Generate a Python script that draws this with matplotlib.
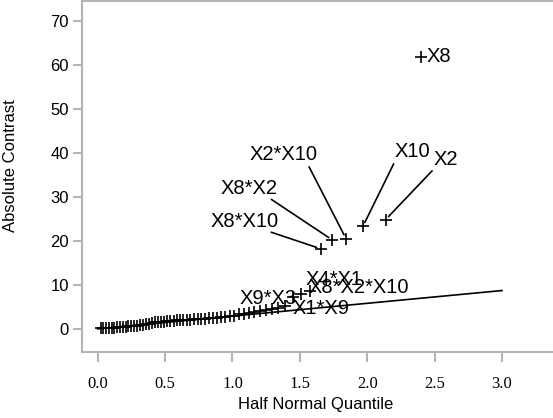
import numpy as np
import matplotlib
matplotlib.use('Agg')
import matplotlib.pyplot as plt

# half normal quantiles (x) and absolute contrasts (y), sorted
quantile = [0.021, 0.041, 0.062, 0.082, 0.103, 0.124, 0.144, 0.165, 0.186, 0.207,
            0.228, 0.249, 0.270, 0.292, 0.313, 0.335, 0.357, 0.379, 0.401, 0.423,
            0.446, 0.469, 0.492, 0.515, 0.539, 0.563, 0.587, 0.612, 0.636, 0.662,
            0.688, 0.714, 0.741, 0.768, 0.796, 0.825, 0.854, 0.884, 0.915, 0.946,
            0.979, 1.013, 1.047, 1.084, 1.122, 1.161, 1.202, 1.245, 1.291, 1.340,
            1.392, 1.448, 1.510, 1.578, 1.653, 1.740, 1.842, 1.968, 2.136, 2.400]
contrast = [0.25, 0.30, 0.30, 0.35, 0.40, 0.40, 0.45, 0.50, 0.55, 0.60,
            0.65, 0.75, 0.80, 0.85, 0.90, 1.00, 1.15, 1.30, 1.45, 1.55,
            1.60, 1.65, 1.70, 1.80, 1.85, 1.90, 2.00, 2.05, 2.10, 2.15,
            2.20, 2.30, 2.35, 2.40, 2.45, 2.50, 2.55, 2.60, 2.70, 2.80,
            3.00, 3.10, 3.40, 3.50, 3.70, 3.90, 4.20, 4.40, 4.60, 4.80,
            5.20, 7.30, 8.00, 8.60, 18.3, 20.3, 20.6, 23.4, 24.9, 61.9]

# reference line
line_x = [0.0, 3.0]
line_y = [0.1, 8.8]

# labelled effects: name, index into arrays, label position, leader line anchor
lab_names = ['X8', 'X2', 'X10', 'X2*X10', 'X8*X2', 'X8*X10',
             'X4*X1', 'X8*X2*X10', 'X9*X3', 'X1*X9']
lab_index = [59, 58, 57, 56, 55, 54, 53, 52, 51, 50]
lab_x = [2.443, 2.495, 2.205, 1.130, 0.912, 0.838, 1.545, 1.562, 1.050, 1.447]
lab_y = [61.9, 38.6, 40.3, 39.6, 32.0, 24.4, 11.2, 9.5, 7.1, 4.8]
lab_leader = [None, (0.0, 0.0), (0.0, 0.0), (0.85, 0.0), (0.85, 0.0), (0.85, 0.0),
              None, None, None, None]

sans = ['Liberation Sans', 'DejaVu Sans']
serif = ['Liberation Serif', 'DejaVu Serif']
grey = '#b4b4b4'

fig = plt.figure(figsize=(5.53, 4.18), dpi=100)
ax = fig.add_axes([0.1477, 0.1586, 0.8523, 0.8390])

ax.plot(line_x, line_y, color='black', lw=1.2, zorder=2)
ax.plot(quantile, contrast, linestyle='none', marker='+', markersize=8,
        markeredgewidth=1.2, color='black', zorder=3)

for name, i, tx, ty, rel in zip(lab_names, lab_index, lab_x, lab_y, lab_leader):
    px, py = quantile[i], contrast[i]
    if rel is None:
        ax.text(tx, ty, name, ha='left', va='center', fontsize=14.5,
                family=sans, zorder=4)
    else:
        ax.annotate(name, xy=(px, py), xytext=(tx, ty), ha='left', va='center',
                    fontsize=14.5, family=sans, zorder=4,
                    arrowprops=dict(arrowstyle='-', color='black', lw=1.2,
                                    relpos=rel, patchA=None,
                                    shrinkA=2, shrinkB=3))

ax.set_xlim(-0.119, 3.378)
ax.set_ylim(-5.09, 74.55)
ax.set_xticks([0.0, 0.5, 1.0, 1.5, 2.0, 2.5, 3.0])
ax.set_yticks([0, 10, 20, 30, 40, 50, 60, 70])
ax.set_xticklabels(['0.0', '0.5', '1.0', '1.5', '2.0', '2.5', '3.0'],
                   family=serif, fontsize=12)
ax.set_yticklabels(['0', '10', '20', '30', '40', '50', '60', '70'],
                   family=sans, fontsize=12)

ax.tick_params(axis='x', direction='out', length=7.2, width=1.5, color=grey, pad=10)
ax.tick_params(axis='y', direction='out', length=6.5, width=1.5, color=grey, pad=2.7)

for side in ['left', 'top', 'bottom']:
    ax.spines[side].set_color(grey)
    ax.spines[side].set_linewidth(1.5)
ax.spines['right'].set_visible(False)

ax.set_xlabel('Half Normal Quantile', family=sans, fontsize=12)
ax.set_ylabel('Absolute Contrast', family=sans, fontsize=12)
ax.xaxis.set_label_coords(0.4965, -0.128)
ax.yaxis.set_label_coords(-0.135, 0.532)

fig.savefig('out.png', dpi=100)
